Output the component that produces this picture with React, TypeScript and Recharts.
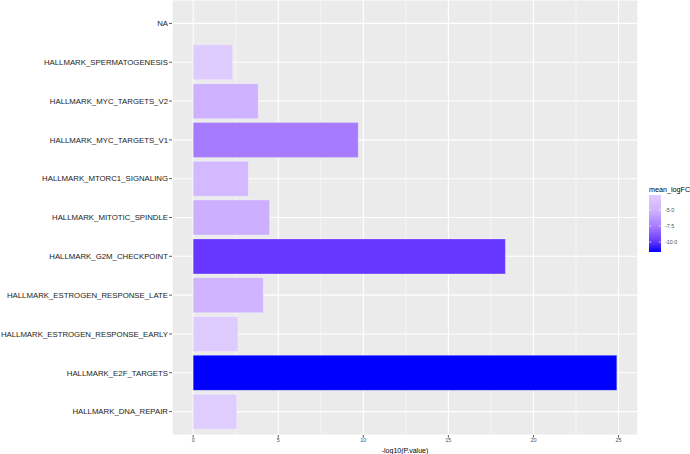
import React from "react"
import { BarChart, Bar, XAxis, YAxis, CartesianGrid, Cell, Label } from "recharts"

const categories = [
  "NA",
  "HALLMARK_SPERMATOGENESIS",
  "HALLMARK_MYC_TARGETS_V2",
  "HALLMARK_MYC_TARGETS_V1",
  "HALLMARK_MTORC1_SIGNALING",
  "HALLMARK_MITOTIC_SPINDLE",
  "HALLMARK_G2M_CHECKPOINT",
  "HALLMARK_ESTROGEN_RESPONSE_LATE",
  "HALLMARK_ESTROGEN_RESPONSE_EARLY",
  "HALLMARK_E2F_TARGETS",
  "HALLMARK_DNA_REPAIR",
]

// -log10(P.value)
const negLog10P = [null, 2.32, 3.82, 9.7, 3.24, 4.49, 18.35, 4.12, 2.63, 24.9, 2.56]

// fill variable
const meanLogFC = [null, -2.8, -5.0, -7.6, -4.4, -5.2, -9.9, -4.8, -2.9, -11.54, -2.69]

const xTicks = [0, 5, 10, 15, 20, 25]
const xMinorTicks = [2.5, 7.5, 12.5, 17.5, 22.5]
const legendTicks = [-5, -7.5, -10]

const FONT = "'Liberation Sans', Arial, Helvetica, sans-serif"

// gradient stops, t = 0 at the lowest mean_logFC, 1 at the highest
const COLOR_STOPS: [number, number[]][] = [
  [0, [0, 0, 255]],
  [0.18, [102, 54, 255]],
  [0.44, [165, 122, 255]],
  [0.72, [205, 176, 255]],
  [1, [224, 205, 255]],
]

const fcValues = meanLogFC.filter((v): v is number => v !== null)
const fcMin = Math.min(...fcValues)
const fcMax = Math.max(...fcValues)

function colorAt(t: number) {
  const c = Math.max(0, Math.min(1, t))
  for (let i = 1; i < COLOR_STOPS.length; i++) {
    const [t1, c1] = COLOR_STOPS[i]
    const [t0, c0] = COLOR_STOPS[i - 1]
    if (c <= t1) {
      const f = (c - t0) / (t1 - t0)
      const rgb = c0.map((v, k) => Math.round(v + (c1[k] - v) * f))
      return `rgb(${rgb.join(",")})`
    }
  }
  return "rgb(224,205,255)"
}

function fillFor(v: number | null) {
  if (v === null) return "#7F7F7F"
  return colorAt((v - fcMin) / (fcMax - fcMin))
}

const pMax = Math.max(...negLog10P.filter((v): v is number => v !== null))
// ggplot's default 5% expansion
const xDomain = [-0.05 * pMax, pMax * 1.05]

const rows = categories.map((name, i) => ({
  name,
  value: negLog10P[i],
  fc: meanLogFC[i],
}))

function ColorbarLegend() {
  const left = 649
  const top = 195
  const w = 12
  const h = 57
  const yOf = (v: number) => top + ((fcMax - v) / (fcMax - fcMin)) * h
  return (
    <svg
      width={690}
      height={454}
      style={{ position: "absolute", left: 0, top: 0, pointerEvents: "none" }}
    >
      <defs>
        <linearGradient id="fcGrad" x1="0" y1="0" x2="0" y2="1">
          {COLOR_STOPS.map(([t, c]) => (
            <stop key={t} offset={1 - t} stopColor={`rgb(${c.join(",")})`} />
          )).reverse()}
        </linearGradient>
      </defs>
      <text x={left} y={192} fontSize={7.2} fontFamily={FONT} fill="#000">
        mean_logFC
      </text>
      <rect x={left} y={top} width={w} height={h} fill="url(#fcGrad)" />
      {legendTicks.map((t) => (
        <g key={t}>
          <line x1={left} x2={left + 2.4} y1={yOf(t)} y2={yOf(t)} stroke="#fff" strokeWidth={0.6} />
          <line x1={left + w - 2.4} x2={left + w} y1={yOf(t)} y2={yOf(t)} stroke="#fff" strokeWidth={0.6} />
          <text
            x={left + w + 4}
            y={yOf(t)}
            dy="0.35em"
            fontSize={5.4}
            fontFamily={FONT}
            fill="#4D4D4D"
          >
            {t.toFixed(1)}
          </text>
        </g>
      ))}
    </svg>
  )
}

export default function App() {
  return (
    <div
      style={{
        position: "absolute",
        left: 0,
        top: 0,
        width: 690,
        height: 454,
        background: "#fff",
        fontFamily: FONT,
      }}
    >
      <BarChart
        width={690}
        height={454}
        data={rows}
        layout="vertical"
        margin={{ top: 0, right: 52, bottom: 0, left: 0 }}
        barSize={35}
      >
        <CartesianGrid fill="#EBEBEB" stroke="#fff" strokeWidth={1.1} />
        <CartesianGrid xAxisId="minor" horizontal={false} stroke="#fff" strokeWidth={0.5} />
        <XAxis
          type="number"
          dataKey="value"
          domain={xDomain}
          ticks={xTicks}
          allowDataOverflow
          axisLine={false}
          tickLine={{ stroke: "#333", strokeWidth: 0.8 }}
          tickSize={2.7}
          tickMargin={0.5}
          height={19}
          tick={{ fontSize: 5.5, fill: "#4D4D4D", fontFamily: FONT }}
        >
          <Label
            value="-log10(P.value)"
            position="insideBottom"
            offset={1}
            style={{ fontSize: 7, fill: "#000", fontFamily: FONT }}
          />
        </XAxis>
        <XAxis
          xAxisId="minor"
          type="number"
          domain={xDomain}
          ticks={xMinorTicks}
          allowDataOverflow
          hide
        />
        <YAxis
          type="category"
          dataKey="name"
          width={172}
          axisLine={false}
          tickLine={{ stroke: "#333", strokeWidth: 0.8 }}
          tickSize={3}
          tickMargin={1}
          interval={0}
          padding={{ top: 4, bottom: 4 }}
          tick={{ fontSize: 7.8, fill: "#1A1A1A", fontFamily: FONT }}
        />
        <Bar
          dataKey="value"
          isAnimationActive={false}
          stroke="#fff"
          strokeOpacity={0.35}
          strokeWidth={0.8}
        >
          {rows.map((r) => (
            <Cell key={r.name} fill={fillFor(r.fc)} />
          ))}
        </Bar>
      </BarChart>
      <ColorbarLegend />
    </div>
  )
}
